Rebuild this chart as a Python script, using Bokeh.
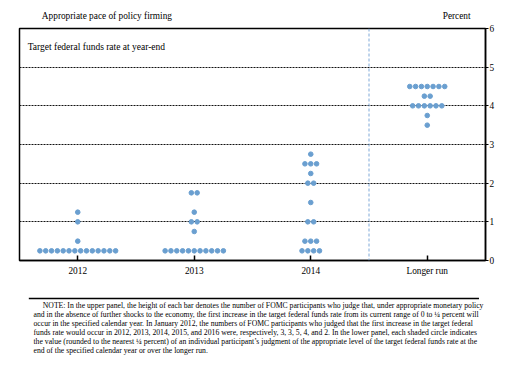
from bokeh.plotting import figure
from bokeh.models import Range1d, FixedTicker, Label, Span, ColumnDataSource
from bokeh.layouts import column
from bokeh.embed import file_html
from bokeh.resources import INLINE
from bokeh.core.properties import value

categories = ["2012", "2013", "2014", "Longer run"]
levels_2012 = [0.25, 0.5, 1.0, 1.25]
counts_2012 = [14, 1, 1, 1]
levels_2013 = [0.25, 0.75, 1.0, 1.25, 1.75]
counts_2013 = [11, 1, 2, 1, 2]
levels_2014 = [0.25, 0.5, 1.0, 1.5, 2.0, 2.25, 2.5, 2.75]
counts_2014 = [4, 3, 2, 1, 2, 1, 3, 1]
levels_longer = [3.5, 3.75, 4.0, 4.25, 4.5]
counts_longer = [1, 1, 6, 2, 7]
y_ticks = [0, 1, 2, 3, 4, 5, 6]

note_lines = [
    "NOTE:  In the upper panel, the height of each bar denotes the number of FOMC participants who judge that, under appropriate monetary policy",
    "and in the absence of further shocks to the economy, the first increase in the target federal funds rate from its current range of 0 to \u00bc percent will",
    "occur in the specified calendar year. In January 2012, the numbers of FOMC participants who judged that the first increase in the target federal",
    "funds rate would occur in 2012, 2013, 2014, 2015, and 2016 were, respectively, 3, 3, 5, 4, and 2.  In the lower panel, each shaded circle indicates",
    "the value (rounded to the nearest \u00bc percent) of an individual participant\u2019s judgment of the appropriate level of the target federal funds rate at the",
    "end of the specified calendar year or over the longer run.",
]

FONT = "Liberation Serif"
DOT = "#6a9fd0"
W = 500

# build dot positions from the data
all_levels = [levels_2012, levels_2013, levels_2014, levels_longer]
all_counts = [counts_2012, counts_2013, counts_2014, counts_longer]
xs, ys = [], []
step = 0.05
for ci, (lv, cn) in enumerate(zip(all_levels, all_counts)):
    for level, n in zip(lv, cn):
        for k in range(n):
            xs.append(ci + 1 + (k - (n - 1) / 2) * step)
            ys.append(level)
src = ColumnDataSource(dict(x=xs, y=ys))


def blank(h):
    f = figure(width=W, height=h, output_backend="svg", toolbar_location=None,
               x_range=Range1d(0, W), y_range=Range1d(h, 0), min_border=0)
    f.axis.visible = False
    f.grid.visible = False
    f.outline_line_color = None
    f.background_fill_color = "white"
    f.border_fill_color = "white"
    return f


# header
h = blank(22)
h.text(x=[24], y=[15], text=["Appropriate pace of policy firming"], text_font=value(FONT),
       text_font_size="9.3px", text_baseline="middle", text_align="left", text_color="black")
h.text(x=[484], y=[15], text=["Percent"], text_font=value(FONT),
       text_font_size="9.3px", text_baseline="middle", text_align="right", text_color="black")

p = figure(width=W, height=263, output_backend="svg", toolbar_location=None,
           x_range=Range1d(0.5, 4.5), y_range=Range1d(0, 6),
           y_axis_location="right",
           min_border_left=19, min_border_right=15, min_border_top=6, min_border_bottom=25)
p.background_fill_color = "white"
p.border_fill_color = "white"
p.outline_line_color = "black"
p.outline_line_width = 1.5

p.xgrid.visible = False
p.ygrid.ticker = FixedTicker(ticks=y_ticks)
p.ygrid.grid_line_color = "#111111"
p.ygrid.grid_line_dash = "2 1"
p.ygrid.grid_line_width = 1

xa = p.xaxis[0]
xa.ticker = FixedTicker(ticks=[1, 2, 3, 4])
xa.major_label_overrides = {i + 1: c for i, c in enumerate(categories)}
xa.major_tick_in = 5
xa.major_tick_out = 0
xa.minor_tick_line_color = None
xa.axis_line_width = 1.5
xa.major_tick_line_width = 1.5
xa.major_label_text_font = FONT
xa.major_label_text_font_size = "9.3px"
xa.major_label_text_color = "black"
xa.major_label_standoff = 5

ya = p.yaxis[0]
ya.ticker = FixedTicker(ticks=y_ticks)
ya.major_tick_in = 0
ya.major_tick_out = 3
ya.minor_tick_line_color = None
ya.axis_line_width = 1.5
ya.major_label_text_font = FONT
ya.major_label_text_font_size = "9.3px"
ya.major_label_text_color = "black"
ya.major_label_standoff = 1

p.add_layout(Span(location=3.5, dimension="height", line_color="#7fa9d8",
                  line_dash="3 2", line_width=1))

p.scatter("x", "y", source=src, size=4.6, color=DOT, line_color=DOT)

p.add_layout(Label(x=0.57, y=5.52, text="Target federal funds rate at year-end",
                   text_font=FONT, text_font_size="9.5px", text_baseline="middle",
                   text_align="left", text_color="black"))

# note panel
q = blank(82)
q.segment(x0=[10], y0=[13], x1=[493], y1=[13], line_color="black", line_width=1.5)
nx = [25] + [15] * (len(note_lines) - 1)
ny = [20 + 9 * i for i in range(len(note_lines))]
q.text(x=nx, y=ny, text=note_lines, text_font=value(FONT), text_font_size="7.7px",
       text_baseline="middle", text_align="left", text_color="black")

layout = column(h, p, q, spacing=0)
open("out.html", "w").write(file_html(layout, INLINE))
